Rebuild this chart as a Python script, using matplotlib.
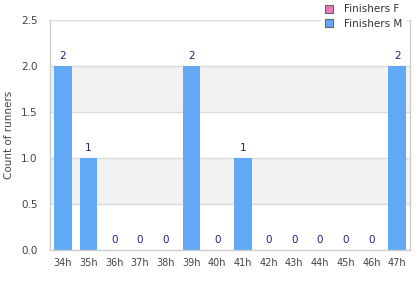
import numpy as np
import matplotlib
matplotlib.use("Agg")
import matplotlib.pyplot as plt
from matplotlib.patches import Patch

hours = ["34h", "35h", "36h", "37h", "38h", "39h", "40h", "41h",
         "42h", "43h", "44h", "45h", "46h", "47h"]
finishers_m = [2, 1, 0, 0, 0, 2, 0, 1, 0, 0, 0, 0, 0, 2]
finishers_f = [0] * len(hours)
yticks = [0.0, 0.5, 1.0, 1.5, 2.0, 2.5]

BLUE = "#61a8f5"
PINK = "#e87bb5"
LABEL = "#1f1f8f"
GRID = "#dadada"
TXT = "#444444"

fig = plt.figure(figsize=(4.2, 3.0), dpi=100)
ax = fig.add_axes([50 / 420, 50 / 300, 360 / 420, 230 / 300])

x = np.arange(len(hours))
ax.set_xlim(-0.5, len(hours) - 0.5)
ax.set_ylim(0, 2.5)

# alternating bands
for lo in (0.5, 1.5):
    ax.axhspan(lo, lo + 0.5, color="#f2f2f2", zorder=0, lw=0)
for yv in yticks[1:]:
    ax.axhline(yv, color=GRID, lw=1, zorder=0.5)

ax.bar(x, finishers_m, width=0.69, color=BLUE, zorder=2)
for xi, v in zip(x, finishers_m):
    ax.text(xi, v + 0.05, str(v), ha="center", va="bottom",
            fontsize=7.5, color=LABEL, zorder=3)

ax.spines["top"].set_visible(False)
for s in ("left", "bottom", "right"):
    ax.spines[s].set_color("#cccccc")
    ax.spines[s].set_linewidth(1)

ax.set_xticks(x)
ax.set_xticklabels(hours)
ax.set_yticks(yticks)
ax.set_yticklabels([f"{v:.1f}" for v in yticks])
ax.tick_params(length=0, labelsize=7, colors=TXT, pad=6)
ax.tick_params(axis="y", labelsize=7.5, pad=9)
ax.set_ylabel("Count of runners", fontsize=7.5, color=TXT)
ax.yaxis.set_label_coords(-36 / 360, 0.5)

handles = [Patch(facecolor=PINK, edgecolor="#666666", lw=0.8, label="Finishers F"),
           Patch(facecolor=BLUE, edgecolor="#666666", lw=0.8, label="Finishers M")]
leg = fig.legend(handles=handles, loc="upper right", bbox_to_anchor=(1.0, 1.0),
                 fontsize=7.5, frameon=True, facecolor="white", edgecolor="white",
                 framealpha=1, handlelength=0.8, handleheight=0.8,
                 handletextpad=1.0, labelspacing=0.45, borderpad=0.4,
                 borderaxespad=0.0)
leg.get_frame().set_boxstyle("square", pad=0.0)
for t in leg.get_texts():
    t.set_color("#333333")
leg.set_bbox_to_anchor((406 / 420, 1.0), transform=fig.transFigure)

fig.savefig("out.png", dpi=100)
